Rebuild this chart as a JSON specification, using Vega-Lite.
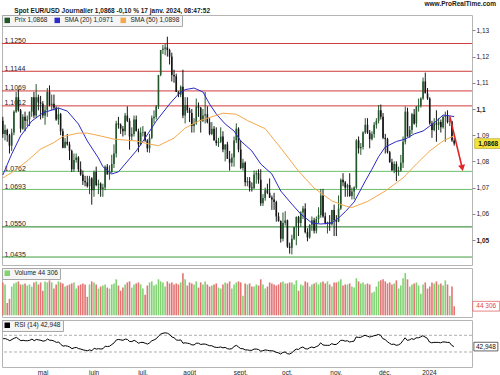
{
"$schema":"https://vega.github.io/schema/vega-lite/v6.json",
"padding":0,
"background":"white",
"datasets":{
"px":[
{"d":"2023-04-05","o":1.0955,"h":1.0970,"l":1.0890,"c":1.0905,"v":160000,"r":62},
{"d":"2023-04-06","o":1.0905,"h":1.0940,"l":1.0880,"c":1.0920,"v":150000,"r":62},
{"d":"2023-04-07","o":1.0920,"h":1.0925,"l":1.0875,"c":1.0900,"v":60000,"r":60},
{"d":"2023-04-10","o":1.0900,"h":1.0905,"l":1.0830,"c":1.0860,"v":80000,"r":57},
{"d":"2023-04-11","o":1.0860,"h":1.0925,"l":1.0840,"c":1.0910,"v":140000,"r":60},
{"d":"2023-04-12","o":1.0910,"h":1.0995,"l":1.0900,"c":1.0990,"v":155000,"r":63},
{"d":"2023-04-13","o":1.0990,"h":1.1065,"l":1.0985,"c":1.1045,"v":160000,"r":65},
{"d":"2023-04-14","o":1.1045,"h":1.1075,"l":1.0990,"c":1.0995,"v":165000,"r":61},
{"d":"2023-04-17","o":1.0995,"h":1.1000,"l":1.0910,"c":1.0925,"v":150000,"r":57},
{"d":"2023-04-18","o":1.0925,"h":1.0980,"l":1.0920,"c":1.0970,"v":150000,"r":58},
{"d":"2023-04-19","o":1.0970,"h":1.0990,"l":1.0915,"c":1.0955,"v":155000,"r":57},
{"d":"2023-04-20","o":1.0955,"h":1.0975,"l":1.0935,"c":1.0960,"v":145000,"r":57},
{"d":"2023-04-21","o":1.0960,"h":1.0990,"l":1.0935,"c":1.0990,"v":150000,"r":58},
{"d":"2023-04-24","o":1.0990,"h":1.1045,"l":1.0970,"c":1.1045,"v":140000,"r":61},
{"d":"2023-04-25","o":1.1045,"h":1.1065,"l":1.0965,"c":1.0975,"v":160000,"r":57},
{"d":"2023-04-26","o":1.0975,"h":1.1095,"l":1.0965,"c":1.1045,"v":165000,"r":60},
{"d":"2023-04-27","o":1.1045,"h":1.1055,"l":1.0995,"c":1.1025,"v":150000,"r":59},
{"d":"2023-04-28","o":1.1025,"h":1.1050,"l":1.0960,"c":1.1020,"v":160000,"r":58},
{"d":"2023-05-01","o":1.1020,"h":1.1030,"l":1.0965,"c":1.0975,"v":120000,"r":56},
{"d":"2023-05-02","o":1.0975,"h":1.1010,"l":1.0940,"c":1.0995,"v":165000,"r":57},
{"d":"2023-05-03","o":1.0995,"h":1.1080,"l":1.0970,"c":1.1065,"v":160000,"r":61},
{"d":"2023-05-04","o":1.1065,"h":1.1090,"l":1.1010,"c":1.1015,"v":170000,"r":58},
{"d":"2023-05-05","o":1.1015,"h":1.1055,"l":1.0995,"c":1.1020,"v":160000,"r":58},
{"d":"2023-05-08","o":1.1020,"h":1.1055,"l":1.0995,"c":1.1005,"v":130000,"r":56},
{"d":"2023-05-09","o":1.1005,"h":1.1010,"l":1.0955,"c":1.0960,"v":150000,"r":53},
{"d":"2023-05-10","o":1.0960,"h":1.1005,"l":1.0940,"c":1.0980,"v":165000,"r":54},
{"d":"2023-05-11","o":1.0980,"h":1.0985,"l":1.0900,"c":1.0915,"v":160000,"r":48},
{"d":"2023-05-12","o":1.0915,"h":1.0925,"l":1.0850,"c":1.0852,"v":155000,"r":44},
{"d":"2023-05-15","o":1.0852,"h":1.0890,"l":1.0850,"c":1.0875,"v":140000,"r":45},
{"d":"2023-05-16","o":1.0875,"h":1.0905,"l":1.0860,"c":1.0865,"v":145000,"r":44},
{"d":"2023-05-17","o":1.0865,"h":1.0875,"l":1.0805,"c":1.0840,"v":150000,"r":42},
{"d":"2023-05-18","o":1.0840,"h":1.0845,"l":1.0760,"c":1.0770,"v":155000,"r":38},
{"d":"2023-05-19","o":1.0770,"h":1.0830,"l":1.0760,"c":1.0805,"v":160000,"r":40},
{"d":"2023-05-22","o":1.0805,"h":1.0830,"l":1.0795,"c":1.0815,"v":130000,"r":41},
{"d":"2023-05-23","o":1.0815,"h":1.0820,"l":1.0760,"c":1.0770,"v":145000,"r":38},
{"d":"2023-05-24","o":1.0770,"h":1.0800,"l":1.0745,"c":1.0750,"v":150000,"r":37},
{"d":"2023-05-25","o":1.0750,"h":1.0765,"l":1.0710,"c":1.0725,"v":155000,"r":35},
{"d":"2023-05-26","o":1.0725,"h":1.0745,"l":1.0705,"c":1.0720,"v":150000,"r":34},
{"d":"2023-05-29","o":1.0720,"h":1.0745,"l":1.0700,"c":1.0705,"v":90000,"r":33},
{"d":"2023-05-30","o":1.0705,"h":1.0745,"l":1.0675,"c":1.0735,"v":150000,"r":35},
{"d":"2023-05-31","o":1.0735,"h":1.0740,"l":1.0635,"c":1.0690,"v":165000,"r":33},
{"d":"2023-06-01","o":1.0690,"h":1.0765,"l":1.0665,"c":1.0760,"v":160000,"r":39},
{"d":"2023-06-02","o":1.0760,"h":1.0780,"l":1.0705,"c":1.0710,"v":150000,"r":37},
{"d":"2023-06-05","o":1.0710,"h":1.0730,"l":1.0675,"c":1.0715,"v":130000,"r":38},
{"d":"2023-06-06","o":1.0715,"h":1.0720,"l":1.0665,"c":1.0695,"v":140000,"r":37},
{"d":"2023-06-07","o":1.0695,"h":1.0715,"l":1.0665,"c":1.0700,"v":145000,"r":38},
{"d":"2023-06-08","o":1.0700,"h":1.0785,"l":1.0690,"c":1.0780,"v":150000,"r":44},
{"d":"2023-06-09","o":1.0780,"h":1.0790,"l":1.0750,"c":1.0750,"v":135000,"r":43},
{"d":"2023-06-12","o":1.0750,"h":1.0785,"l":1.0730,"c":1.0760,"v":130000,"r":44},
{"d":"2023-06-13","o":1.0760,"h":1.0825,"l":1.0755,"c":1.0790,"v":150000,"r":48},
{"d":"2023-06-14","o":1.0790,"h":1.0865,"l":1.0775,"c":1.0830,"v":155000,"r":52},
{"d":"2023-06-15","o":1.0830,"h":1.0955,"l":1.0815,"c":1.0945,"v":175000,"r":59},
{"d":"2023-06-16","o":1.0945,"h":1.0970,"l":1.0925,"c":1.0940,"v":145000,"r":60},
{"d":"2023-06-19","o":1.0940,"h":1.0945,"l":1.0905,"c":1.0925,"v":120000,"r":59},
{"d":"2023-06-20","o":1.0925,"h":1.0935,"l":1.0895,"c":1.0915,"v":135000,"r":58},
{"d":"2023-06-21","o":1.0915,"h":1.0985,"l":1.0900,"c":1.0975,"v":150000,"r":61},
{"d":"2023-06-22","o":1.0975,"h":1.1010,"l":1.0950,"c":1.0955,"v":160000,"r":60},
{"d":"2023-06-23","o":1.0955,"h":1.0965,"l":1.0845,"c":1.0895,"v":165000,"r":55},
{"d":"2023-06-26","o":1.0895,"h":1.0930,"l":1.0880,"c":1.0905,"v":135000,"r":55},
{"d":"2023-06-27","o":1.0905,"h":1.0975,"l":1.0895,"c":1.0960,"v":150000,"r":58},
{"d":"2023-06-28","o":1.0960,"h":1.0975,"l":1.0915,"c":1.0915,"v":155000,"r":55},
{"d":"2023-06-29","o":1.0915,"h":1.0925,"l":1.0835,"c":1.0865,"v":160000,"r":51},
{"d":"2023-06-30","o":1.0865,"h":1.0930,"l":1.0860,"c":1.0910,"v":150000,"r":53},
{"d":"2023-07-03","o":1.0910,"h":1.0935,"l":1.0895,"c":1.0912,"v":130000,"r":53},
{"d":"2023-07-04","o":1.0912,"h":1.0915,"l":1.0875,"c":1.0880,"v":100000,"r":51},
{"d":"2023-07-05","o":1.0880,"h":1.0885,"l":1.0835,"c":1.0850,"v":145000,"r":49},
{"d":"2023-07-06","o":1.0850,"h":1.0905,"l":1.0833,"c":1.0890,"v":160000,"r":52},
{"d":"2023-07-07","o":1.0890,"h":1.0975,"l":1.0885,"c":1.0965,"v":165000,"r":57},
{"d":"2023-07-10","o":1.0965,"h":1.0995,"l":1.0945,"c":1.0970,"v":145000,"r":59},
{"d":"2023-07-11","o":1.0970,"h":1.1015,"l":1.0960,"c":1.1010,"v":150000,"r":62},
{"d":"2023-07-12","o":1.1010,"h":1.1130,"l":1.1000,"c":1.1130,"v":175000,"r":68},
{"d":"2023-07-13","o":1.1130,"h":1.1225,"l":1.1125,"c":1.1225,"v":165000,"r":73},
{"d":"2023-07-14","o":1.1225,"h":1.1245,"l":1.1210,"c":1.1230,"v":160000,"r":75},
{"d":"2023-07-17","o":1.1230,"h":1.1250,"l":1.1205,"c":1.1235,"v":140000,"r":76},
{"d":"2023-07-18","o":1.1235,"h":1.1276,"l":1.1200,"c":1.1225,"v":165000,"r":75},
{"d":"2023-07-19","o":1.1225,"h":1.1230,"l":1.1170,"c":1.1200,"v":155000,"r":72},
{"d":"2023-07-20","o":1.1200,"h":1.1215,"l":1.1105,"c":1.1130,"v":160000,"r":66},
{"d":"2023-07-21","o":1.1130,"h":1.1150,"l":1.1100,"c":1.1125,"v":150000,"r":64},
{"d":"2023-07-24","o":1.1125,"h":1.1135,"l":1.1065,"c":1.1065,"v":155000,"r":59},
{"d":"2023-07-25","o":1.1065,"h":1.1068,"l":1.1045,"c":1.1055,"v":150000,"r":58},
{"d":"2023-07-26","o":1.1055,"h":1.1090,"l":1.1045,"c":1.1085,"v":160000,"r":59},
{"d":"2023-07-27","o":1.1085,"h":1.1150,"l":1.0965,"c":1.0975,"v":205000,"r":51},
{"d":"2023-07-28","o":1.0975,"h":1.1045,"l":1.0945,"c":1.1015,"v":175000,"r":52},
{"d":"2023-07-31","o":1.1015,"h":1.1045,"l":1.0985,"c":1.0995,"v":145000,"r":51},
{"d":"2023-08-01","o":1.0995,"h":1.1005,"l":1.0950,"c":1.0985,"v":160000,"r":50},
{"d":"2023-08-02","o":1.0985,"h":1.1000,"l":1.0910,"c":1.0935,"v":155000,"r":47},
{"d":"2023-08-03","o":1.0935,"h":1.0965,"l":1.0910,"c":1.0945,"v":150000,"r":47},
{"d":"2023-08-04","o":1.0945,"h":1.1040,"l":1.0940,"c":1.1010,"v":165000,"r":51},
{"d":"2023-08-07","o":1.1010,"h":1.1025,"l":1.0970,"c":1.1005,"v":135000,"r":51},
{"d":"2023-08-08","o":1.1005,"h":1.1008,"l":1.0910,"c":1.0955,"v":160000,"r":48},
{"d":"2023-08-09","o":1.0955,"h":1.1000,"l":1.0950,"c":1.0975,"v":150000,"r":49},
{"d":"2023-08-10","o":1.0975,"h":1.1065,"l":1.0945,"c":1.0980,"v":165000,"r":49},
{"d":"2023-08-11","o":1.0980,"h":1.1010,"l":1.0945,"c":1.0950,"v":150000,"r":47},
{"d":"2023-08-14","o":1.0950,"h":1.0965,"l":1.0900,"c":1.0905,"v":140000,"r":45},
{"d":"2023-08-15","o":1.0905,"h":1.0950,"l":1.0900,"c":1.0925,"v":145000,"r":45},
{"d":"2023-08-16","o":1.0925,"h":1.0935,"l":1.0880,"c":1.0880,"v":150000,"r":42},
{"d":"2023-08-17","o":1.0880,"h":1.0930,"l":1.0860,"c":1.0870,"v":155000,"r":41},
{"d":"2023-08-18","o":1.0870,"h":1.0890,"l":1.0855,"c":1.0875,"v":135000,"r":41},
{"d":"2023-08-21","o":1.0875,"h":1.0930,"l":1.0870,"c":1.0895,"v":130000,"r":42},
{"d":"2023-08-22","o":1.0895,"h":1.0915,"l":1.0835,"c":1.0845,"v":150000,"r":40},
{"d":"2023-08-23","o":1.0845,"h":1.0865,"l":1.0800,"c":1.0865,"v":160000,"r":41},
{"d":"2023-08-24","o":1.0865,"h":1.0875,"l":1.0810,"c":1.0810,"v":155000,"r":38},
{"d":"2023-08-25","o":1.0810,"h":1.0840,"l":1.0765,"c":1.0795,"v":165000,"r":37},
{"d":"2023-08-28","o":1.0795,"h":1.0830,"l":1.0780,"c":1.0815,"v":130000,"r":38},
{"d":"2023-08-29","o":1.0815,"h":1.0895,"l":1.0780,"c":1.0880,"v":150000,"r":43},
{"d":"2023-08-30","o":1.0880,"h":1.0945,"l":1.0870,"c":1.0925,"v":160000,"r":46},
{"d":"2023-08-31","o":1.0925,"h":1.0930,"l":1.0835,"c":1.0845,"v":165000,"r":42},
{"d":"2023-09-01","o":1.0845,"h":1.0880,"l":1.0770,"c":1.0775,"v":160000,"r":38},
{"d":"2023-09-04","o":1.0775,"h":1.0810,"l":1.0765,"c":1.0795,"v":95000,"r":38},
{"d":"2023-09-05","o":1.0795,"h":1.0800,"l":1.0705,"c":1.0720,"v":155000,"r":35},
{"d":"2023-09-06","o":1.0720,"h":1.0740,"l":1.0705,"c":1.0725,"v":150000,"r":35},
{"d":"2023-09-07","o":1.0725,"h":1.0740,"l":1.0685,"c":1.0700,"v":155000,"r":34},
{"d":"2023-09-08","o":1.0700,"h":1.0720,"l":1.0685,"c":1.0698,"v":140000,"r":34},
{"d":"2023-09-11","o":1.0698,"h":1.0765,"l":1.0695,"c":1.0750,"v":140000,"r":37},
{"d":"2023-09-12","o":1.0750,"h":1.0765,"l":1.0715,"c":1.0755,"v":150000,"r":37},
{"d":"2023-09-13","o":1.0755,"h":1.0770,"l":1.0715,"c":1.0730,"v":145000,"r":36},
{"d":"2023-09-14","o":1.0730,"h":1.0770,"l":1.0630,"c":1.0640,"v":175000,"r":32},
{"d":"2023-09-15","o":1.0640,"h":1.0675,"l":1.0630,"c":1.0660,"v":150000,"r":33},
{"d":"2023-09-18","o":1.0660,"h":1.0700,"l":1.0650,"c":1.0690,"v":130000,"r":35},
{"d":"2023-09-19","o":1.0690,"h":1.0715,"l":1.0675,"c":1.0680,"v":140000,"r":34},
{"d":"2023-09-20","o":1.0680,"h":1.0735,"l":1.0660,"c":1.0662,"v":160000,"r":33},
{"d":"2023-09-21","o":1.0662,"h":1.0670,"l":1.0615,"c":1.0655,"v":155000,"r":33},
{"d":"2023-09-22","o":1.0655,"h":1.0680,"l":1.0615,"c":1.0645,"v":150000,"r":32},
{"d":"2023-09-25","o":1.0645,"h":1.0650,"l":1.0570,"c":1.0590,"v":145000,"r":29},
{"d":"2023-09-26","o":1.0590,"h":1.0605,"l":1.0570,"c":1.0572,"v":150000,"r":28},
{"d":"2023-09-27","o":1.0572,"h":1.0575,"l":1.0490,"c":1.0505,"v":160000,"r":25},
{"d":"2023-09-28","o":1.0505,"h":1.0605,"l":1.0495,"c":1.0565,"v":165000,"r":29},
{"d":"2023-09-29","o":1.0565,"h":1.0610,"l":1.0555,"c":1.0575,"v":155000,"r":30},
{"d":"2023-10-02","o":1.0575,"h":1.0578,"l":1.0470,"c":1.0475,"v":155000,"r":26},
{"d":"2023-10-03","o":1.0475,"h":1.0490,"l":1.0448,"c":1.0470,"v":160000,"r":25},
{"d":"2023-10-04","o":1.0470,"h":1.0520,"l":1.0445,"c":1.0505,"v":160000,"r":28},
{"d":"2023-10-05","o":1.0505,"h":1.0550,"l":1.0500,"c":1.0550,"v":150000,"r":33},
{"d":"2023-10-06","o":1.0550,"h":1.0590,"l":1.0480,"c":1.0588,"v":170000,"r":37},
{"d":"2023-10-09","o":1.0588,"h":1.0592,"l":1.0515,"c":1.0565,"v":120000,"r":36},
{"d":"2023-10-10","o":1.0565,"h":1.0610,"l":1.0550,"c":1.0605,"v":150000,"r":40},
{"d":"2023-10-11","o":1.0605,"h":1.0630,"l":1.0580,"c":1.0620,"v":145000,"r":42},
{"d":"2023-10-12","o":1.0620,"h":1.0640,"l":1.0525,"c":1.0530,"v":165000,"r":38},
{"d":"2023-10-13","o":1.0530,"h":1.0545,"l":1.0495,"c":1.0510,"v":160000,"r":37},
{"d":"2023-10-16","o":1.0510,"h":1.0560,"l":1.0505,"c":1.0558,"v":140000,"r":40},
{"d":"2023-10-17","o":1.0558,"h":1.0590,"l":1.0535,"c":1.0575,"v":150000,"r":42},
{"d":"2023-10-18","o":1.0575,"h":1.0585,"l":1.0525,"c":1.0535,"v":155000,"r":40},
{"d":"2023-10-19","o":1.0535,"h":1.0590,"l":1.0525,"c":1.0580,"v":160000,"r":43},
{"d":"2023-10-20","o":1.0580,"h":1.0625,"l":1.0565,"c":1.0595,"v":150000,"r":45},
{"d":"2023-10-23","o":1.0595,"h":1.0695,"l":1.0585,"c":1.0670,"v":160000,"r":52},
{"d":"2023-10-24","o":1.0670,"h":1.0695,"l":1.0585,"c":1.0590,"v":165000,"r":47},
{"d":"2023-10-25","o":1.0590,"h":1.0605,"l":1.0560,"c":1.0565,"v":155000,"r":46},
{"d":"2023-10-26","o":1.0565,"h":1.0570,"l":1.0525,"c":1.0568,"v":165000,"r":46},
{"d":"2023-10-27","o":1.0568,"h":1.0595,"l":1.0535,"c":1.0560,"v":150000,"r":46},
{"d":"2023-10-30","o":1.0560,"h":1.0615,"l":1.0555,"c":1.0615,"v":140000,"r":50},
{"d":"2023-10-31","o":1.0615,"h":1.0635,"l":1.0515,"c":1.0575,"v":160000,"r":48},
{"d":"2023-11-01","o":1.0575,"h":1.0595,"l":1.0515,"c":1.0570,"v":160000,"r":48},
{"d":"2023-11-02","o":1.0570,"h":1.0670,"l":1.0568,"c":1.0620,"v":165000,"r":52},
{"d":"2023-11-03","o":1.0620,"h":1.0735,"l":1.0615,"c":1.0730,"v":175000,"r":58},
{"d":"2023-11-06","o":1.0730,"h":1.0755,"l":1.0705,"c":1.0720,"v":145000,"r":58},
{"d":"2023-11-07","o":1.0720,"h":1.0725,"l":1.0665,"c":1.0700,"v":150000,"r":56},
{"d":"2023-11-08","o":1.0700,"h":1.0715,"l":1.0665,"c":1.0710,"v":150000,"r":57},
{"d":"2023-11-09","o":1.0710,"h":1.0755,"l":1.0665,"c":1.0668,"v":155000,"r":54},
{"d":"2023-11-10","o":1.0668,"h":1.0700,"l":1.0655,"c":1.0685,"v":140000,"r":55},
{"d":"2023-11-13","o":1.0685,"h":1.0705,"l":1.0655,"c":1.0700,"v":135000,"r":56},
{"d":"2023-11-14","o":1.0700,"h":1.0885,"l":1.0695,"c":1.0880,"v":180000,"r":66},
{"d":"2023-11-15","o":1.0880,"h":1.0895,"l":1.0830,"c":1.0850,"v":165000,"r":65},
{"d":"2023-11-16","o":1.0850,"h":1.0870,"l":1.0825,"c":1.0855,"v":155000,"r":65},
{"d":"2023-11-17","o":1.0855,"h":1.0915,"l":1.0845,"c":1.0910,"v":160000,"r":68},
{"d":"2023-11-20","o":1.0910,"h":1.0965,"l":1.0905,"c":1.0940,"v":150000,"r":70},
{"d":"2023-11-21","o":1.0940,"h":1.0965,"l":1.0905,"c":1.0910,"v":155000,"r":68},
{"d":"2023-11-22","o":1.0910,"h":1.0920,"l":1.0850,"c":1.0885,"v":150000,"r":66},
{"d":"2023-11-23","o":1.0885,"h":1.0915,"l":1.0880,"c":1.0905,"v":110000,"r":67},
{"d":"2023-11-24","o":1.0905,"h":1.0950,"l":1.0890,"c":1.0940,"v":115000,"r":69},
{"d":"2023-11-27","o":1.0940,"h":1.0965,"l":1.0925,"c":1.0955,"v":140000,"r":70},
{"d":"2023-11-28","o":1.0955,"h":1.1015,"l":1.0945,"c":1.0995,"v":165000,"r":72},
{"d":"2023-11-29","o":1.0995,"h":1.1017,"l":1.0960,"c":1.0970,"v":170000,"r":70},
{"d":"2023-11-30","o":1.0970,"h":1.0985,"l":1.0885,"c":1.0890,"v":175000,"r":62},
{"d":"2023-12-01","o":1.0890,"h":1.0905,"l":1.0830,"c":1.0885,"v":165000,"r":60},
{"d":"2023-12-04","o":1.0885,"h":1.0890,"l":1.0830,"c":1.0835,"v":155000,"r":55},
{"d":"2023-12-05","o":1.0835,"h":1.0840,"l":1.0795,"c":1.0797,"v":160000,"r":51},
{"d":"2023-12-06","o":1.0797,"h":1.0810,"l":1.0765,"c":1.0765,"v":150000,"r":48},
{"d":"2023-12-07","o":1.0765,"h":1.0800,"l":1.0755,"c":1.0790,"v":155000,"r":49},
{"d":"2023-12-08","o":1.0790,"h":1.0800,"l":1.0725,"c":1.0760,"v":170000,"r":46},
{"d":"2023-12-11","o":1.0760,"h":1.0780,"l":1.0745,"c":1.0765,"v":130000,"r":47},
{"d":"2023-12-12","o":1.0765,"h":1.0825,"l":1.0760,"c":1.0795,"v":145000,"r":50},
{"d":"2023-12-13","o":1.0795,"h":1.0895,"l":1.0775,"c":1.0875,"v":180000,"r":57},
{"d":"2023-12-14","o":1.0875,"h":1.1010,"l":1.0865,"c":1.0990,"v":205000,"r":64},
{"d":"2023-12-15","o":1.0990,"h":1.1005,"l":1.0895,"c":1.0895,"v":175000,"r":58},
{"d":"2023-12-18","o":1.0895,"h":1.0935,"l":1.0890,"c":1.0920,"v":140000,"r":59},
{"d":"2023-12-19","o":1.0920,"h":1.0985,"l":1.0905,"c":1.0980,"v":150000,"r":62},
{"d":"2023-12-20","o":1.0980,"h":1.1000,"l":1.0940,"c":1.0945,"v":155000,"r":60},
{"d":"2023-12-21","o":1.0945,"h":1.1010,"l":1.0930,"c":1.1010,"v":160000,"r":64},
{"d":"2023-12-22","o":1.1010,"h":1.1040,"l":1.0990,"c":1.1012,"v":145000,"r":64},
{"d":"2023-12-26","o":1.1012,"h":1.1045,"l":1.1005,"c":1.1040,"v":105000,"r":66},
{"d":"2023-12-27","o":1.1040,"h":1.1120,"l":1.1035,"c":1.1105,"v":150000,"r":69},
{"d":"2023-12-28","o":1.1105,"h":1.1139,"l":1.1060,"c":1.1060,"v":160000,"r":66},
{"d":"2023-12-29","o":1.1060,"h":1.1080,"l":1.1035,"c":1.1040,"v":130000,"r":63},
{"d":"2024-01-02","o":1.1040,"h":1.1045,"l":1.0940,"c":1.0945,"v":140000,"r":54},
{"d":"2024-01-03","o":1.0945,"h":1.0955,"l":1.0890,"c":1.0920,"v":160000,"r":52},
{"d":"2024-01-04","o":1.0920,"h":1.0965,"l":1.0915,"c":1.0945,"v":155000,"r":53},
{"d":"2024-01-05","o":1.0945,"h":1.0995,"l":1.0875,"c":1.0940,"v":165000,"r":53},
{"d":"2024-01-08","o":1.0940,"h":1.0965,"l":1.0920,"c":1.0950,"v":150000,"r":53},
{"d":"2024-01-09","o":1.0950,"h":1.0960,"l":1.0910,"c":1.0930,"v":155000,"r":52},
{"d":"2024-01-10","o":1.0930,"h":1.0975,"l":1.0925,"c":1.0970,"v":145000,"r":54},
{"d":"2024-01-11","o":1.0970,"h":1.0990,"l":1.0875,"c":1.0975,"v":170000,"r":54},
{"d":"2024-01-12","o":1.0975,"h":1.0995,"l":1.0945,"c":1.0950,"v":150000,"r":53},
{"d":"2024-01-15","o":1.0950,"h":1.0965,"l":1.0935,"c":1.0952,"v":95000,"r":53},
{"d":"2024-01-16","o":1.0952,"h":1.0955,"l":1.0875,"c":1.0880,"v":140000,"r":46},
{"d":"2024-01-17","o":1.0880,"h":1.0890,"l":1.0860,"c":1.0868,"v":44306,"r":42.948}
],
"sma":[
{"d":"2023-04-05","k":"SMA (20) 1,0971","s":1.0748},
{"d":"2023-04-11","k":"SMA (20) 1,0971","s":1.0828},
{"d":"2023-04-17","k":"SMA (20) 1,0971","s":1.0897},
{"d":"2023-04-24","k":"SMA (20) 1,0971","s":1.0954},
{"d":"2023-05-01","k":"SMA (20) 1,0971","s":1.0985},
{"d":"2023-05-10","k":"SMA (20) 1,0971","s":1.1004},
{"d":"2023-05-16","k":"SMA (20) 1,0971","s":1.0992},
{"d":"2023-05-23","k":"SMA (20) 1,0971","s":1.0943},
{"d":"2023-05-29","k":"SMA (20) 1,0971","s":1.0878},
{"d":"2023-06-05","k":"SMA (20) 1,0971","s":1.0813},
{"d":"2023-06-07","k":"SMA (20) 1,0971","s":1.0780},
{"d":"2023-06-13","k":"SMA (20) 1,0971","s":1.0752},
{"d":"2023-06-16","k":"SMA (20) 1,0971","s":1.0760},
{"d":"2023-06-21","k":"SMA (20) 1,0971","s":1.0790},
{"d":"2023-06-28","k":"SMA (20) 1,0971","s":1.0840},
{"d":"2023-07-04","k":"SMA (20) 1,0971","s":1.0889},
{"d":"2023-07-11","k":"SMA (20) 1,0971","s":1.0954},
{"d":"2023-07-19","k":"SMA (20) 1,0971","s":1.1019},
{"d":"2023-07-25","k":"SMA (20) 1,0971","s":1.1057},
{"d":"2023-07-28","k":"SMA (20) 1,0971","s":1.1074},
{"d":"2023-08-03","k":"SMA (20) 1,0971","s":1.1080},
{"d":"2023-08-09","k":"SMA (20) 1,0971","s":1.1065},
{"d":"2023-08-14","k":"SMA (20) 1,0971","s":1.1019},
{"d":"2023-08-17","k":"SMA (20) 1,0971","s":1.0981},
{"d":"2023-08-23","k":"SMA (20) 1,0971","s":1.0943},
{"d":"2023-08-29","k":"SMA (20) 1,0971","s":1.0916},
{"d":"2023-09-01","k":"SMA (20) 1,0971","s":1.0878},
{"d":"2023-09-08","k":"SMA (20) 1,0971","s":1.0840},
{"d":"2023-09-14","k":"SMA (20) 1,0971","s":1.0790},
{"d":"2023-09-21","k":"SMA (20) 1,0971","s":1.0752},
{"d":"2023-09-27","k":"SMA (20) 1,0971","s":1.0687},
{"d":"2023-10-04","k":"SMA (20) 1,0971","s":1.0637},
{"d":"2023-10-10","k":"SMA (20) 1,0971","s":1.0599},
{"d":"2023-10-17","k":"SMA (20) 1,0971","s":1.0565},
{"d":"2023-10-23","k":"SMA (20) 1,0971","s":1.0561},
{"d":"2023-10-30","k":"SMA (20) 1,0971","s":1.0565},
{"d":"2023-11-02","k":"SMA (20) 1,0971","s":1.0584},
{"d":"2023-11-07","k":"SMA (20) 1,0971","s":1.0608},
{"d":"2023-11-13","k":"SMA (20) 1,0971","s":1.0645},
{"d":"2023-11-20","k":"SMA (20) 1,0971","s":1.0725},
{"d":"2023-11-23","k":"SMA (20) 1,0971","s":1.0770},
{"d":"2023-11-28","k":"SMA (20) 1,0971","s":1.0818},
{"d":"2023-12-01","k":"SMA (20) 1,0971","s":1.0855},
{"d":"2023-12-08","k":"SMA (20) 1,0971","s":1.0876},
{"d":"2023-12-14","k":"SMA (20) 1,0971","s":1.0885},
{"d":"2023-12-20","k":"SMA (20) 1,0971","s":1.0905},
{"d":"2023-12-27","k":"SMA (20) 1,0971","s":1.0916},
{"d":"2024-01-02","k":"SMA (20) 1,0971","s":1.0935},
{"d":"2024-01-05","k":"SMA (20) 1,0971","s":1.0954},
{"d":"2024-01-10","k":"SMA (20) 1,0971","s":1.0977},
{"d":"2024-01-15","k":"SMA (20) 1,0971","s":1.0974},
{"d":"2024-01-17","k":"SMA (20) 1,0971","s":1.0971},
{"d":"2023-04-05","k":"SMA (50) 1,0898","s":1.0737},
{"d":"2023-04-12","k":"SMA (50) 1,0898","s":1.0763},
{"d":"2023-04-20","k":"SMA (50) 1,0898","s":1.0802},
{"d":"2023-04-28","k":"SMA (50) 1,0898","s":1.0847},
{"d":"2023-05-08","k":"SMA (50) 1,0898","s":1.0872},
{"d":"2023-05-12","k":"SMA (50) 1,0898","s":1.0895},
{"d":"2023-05-23","k":"SMA (50) 1,0898","s":1.0908},
{"d":"2023-05-29","k":"SMA (50) 1,0898","s":1.0908},
{"d":"2023-06-06","k":"SMA (50) 1,0898","s":1.0897},
{"d":"2023-06-14","k":"SMA (50) 1,0898","s":1.0885},
{"d":"2023-06-28","k":"SMA (50) 1,0898","s":1.0878},
{"d":"2023-07-06","k":"SMA (50) 1,0898","s":1.0866},
{"d":"2023-07-12","k":"SMA (50) 1,0898","s":1.0860},
{"d":"2023-07-21","k":"SMA (50) 1,0898","s":1.0889},
{"d":"2023-07-28","k":"SMA (50) 1,0898","s":1.0927},
{"d":"2023-08-07","k":"SMA (50) 1,0898","s":1.0954},
{"d":"2023-08-16","k":"SMA (50) 1,0898","s":1.0973},
{"d":"2023-08-22","k":"SMA (50) 1,0898","s":1.0984},
{"d":"2023-08-30","k":"SMA (50) 1,0898","s":1.0980},
{"d":"2023-09-06","k":"SMA (50) 1,0898","s":1.0956},
{"d":"2023-09-18","k":"SMA (50) 1,0898","s":1.0925},
{"d":"2023-09-27","k":"SMA (50) 1,0898","s":1.0851},
{"d":"2023-10-09","k":"SMA (50) 1,0898","s":1.0763},
{"d":"2023-10-18","k":"SMA (50) 1,0898","s":1.0698},
{"d":"2023-10-30","k":"SMA (50) 1,0898","s":1.0649},
{"d":"2023-11-07","k":"SMA (50) 1,0898","s":1.0630},
{"d":"2023-11-10","k":"SMA (50) 1,0898","s":1.0624},
{"d":"2023-11-21","k":"SMA (50) 1,0898","s":1.0647},
{"d":"2023-12-01","k":"SMA (50) 1,0898","s":1.0687},
{"d":"2023-12-13","k":"SMA (50) 1,0898","s":1.0737},
{"d":"2023-12-21","k":"SMA (50) 1,0898","s":1.0790},
{"d":"2024-01-02","k":"SMA (50) 1,0898","s":1.0840},
{"d":"2024-01-10","k":"SMA (50) 1,0898","s":1.0878},
{"d":"2024-01-17","k":"SMA (50) 1,0898","s":1.0898}
],
"lv":[{"lv":1.125,"k":"r"},{"lv":1.1144,"k":"r"},{"lv":1.1069,"k":"r"},{"lv":1.1012,"k":"r"},{"lv":1.0762,"k":"s"},{"lv":1.0693,"k":"s"},{"lv":1.055,"k":"m"},{"lv":1.0435,"k":"b"}],
"arrow":[{"d1":"2024-01-15","d2":"2024-01-17","p1":1.0973,"p2":1.0775}],
"rsilv":[{"lvl":70},{"lvl":30}],
"months":[{"m":"2023-05-01","t":"mai"},{"m":"2023-06-01","t":"juin"},{"m":"2023-07-03","t":"juil."},{"m":"2023-08-01","t":"août"},{"m":"2023-09-01","t":"sept."},{"m":"2023-10-02","t":"oct."},{"m":"2023-11-01","t":"nov."},{"m":"2023-12-01","t":"déc."},{"m":"2024-01-02","t":"2024"}]
},
"title":{"text":"Spot EUR/USD Journalier 1,0868 -0,10 % 17 janv. 2024, 08:47:52","anchor":"start","fontSize":6.5,"fontWeight":"bold","color":"#1a1a1a","offset":-14,"frame":"bounds","dx":14},
"spacing":1,
"resolve":{"scale":{"color":"independent"},"legend":{"color":"independent"}},
"vconcat":[
{
"width":470,"height":250,
"title":{"text":"www.ProRealTime.com","anchor":"end","fontSize":6.5,"fontWeight":"bold","color":"#1a1a1a","offset":7,"frame":"group","dx":24},
"resolve":{"axis":{"y":"independent"}},
"layer":[
{"data":{"name":"lv"},"mark":{"type":"rule"},
 "encoding":{
  "y":{"field":"lv","type":"quantitative","scale":{"domain":[1.04046,1.13588],"zero":false,"nice":false},
   "axis":{"orient":"left","values":[1.125,1.1144,1.1069,1.1012,1.0762,1.0693,1.055,1.0435],"format":".4f","labelAlign":"left","labelBaseline":"bottom","labelPadding":-2,"ticks":false,"domain":false,"grid":false,"title":null,"minExtent":0,"maxExtent":0,"labelOverlap":false,"labelFlush":false,"labelBound":false,"labelFontSize":7}},
  "stroke":{"field":"k","type":"nominal","scale":{"domain":["r","s","m","b"],"range":["#d23c3c","#6cbf6c","#1e7d1e","#3f9d3f"]},"legend":null},
  "strokeWidth":{"field":"k","type":"nominal","scale":{"domain":["r","s","m","b"],"range":[1,1,2,1]},"legend":null}
 }},
{"data":{"name":"px"},"mark":{"type":"rule","strokeWidth":1},
 "encoding":{
  "x":{"field":"d","type":"ordinal","scale":{"paddingInner":0.28,"paddingOuter":0,"rangeMax":453},
   "axis":{"labels":false,"ticks":false,"domain":false,"grid":false,"title":"ProRealTime.com","titleAnchor":"start","titleAlign":"left","titlePadding":-10,"titleFontSize":6.5,"titleFontWeight":"normal","titleColor":"#222","minExtent":0,"maxExtent":0}},
  "y":{"field":"l","type":"quantitative","scale":{"domain":[1.04046,1.13588],"zero":false,"nice":false},
   "axis":{"orient":"right","values":[1.05,1.06,1.07,1.08,1.09,1.1,1.11,1.12,1.13],"format":"~g","tickSize":3,"tickColor":"#888","domain":false,"grid":false,"title":null,"labelPadding":1,"labelFontWeight":{"condition":{"test":"datum.value==1.1||datum.value==1.05","value":"bold"},"value":"normal"}}},
  "y2":{"field":"h"},
  "color":{"condition":{"test":"datum.c < datum.o","value":"#151515"},"value":"#24562c"}
 }},
{"data":{"name":"px"},"mark":{"type":"bar"},
 "encoding":{
  "x":{"field":"d","type":"ordinal","scale":{"paddingInner":0.28,"paddingOuter":0,"rangeMax":453},"axis":null},
  "y":{"field":"o","type":"quantitative","scale":{"domain":[1.04046,1.13588],"zero":false,"nice":false},"axis":null},
  "y2":{"field":"c"},
  "color":{"condition":{"test":"datum.c < datum.o","value":"#151515"},"datum":"Prix 1,0868",
   "scale":{"domain":["Prix 1,0868","SMA (20) 1,0971","SMA (50) 1,0898"],"range":["#24562c","#2b2bc8","#f4a84a"]},
   "legend":{"title":null}}
 }},
{"data":{"name":"sma"},"mark":{"type":"line","strokeWidth":1},
 "encoding":{
  "x":{"field":"d","type":"ordinal","scale":{"paddingInner":0.28,"paddingOuter":0,"rangeMax":453},"axis":null},
  "y":{"field":"s","type":"quantitative","scale":{"domain":[1.04046,1.13588],"zero":false,"nice":false},"axis":null},
  "color":{"field":"k","type":"nominal","legend":{"title":null}}
 }},
{"data":{"name":"arrow"},"mark":{"type":"rule","strokeWidth":1.6,"color":"#e0242a","x2Offset":8},
 "encoding":{
  "x":{"field":"d1","type":"ordinal","scale":{"paddingInner":0.28,"paddingOuter":0,"rangeMax":453},"axis":null},
  "x2":{"field":"d2"},
  "y":{"field":"p1","type":"quantitative","scale":{"domain":[1.04046,1.13588],"zero":false,"nice":false},"axis":null},
  "y2":{"field":"p2"}
 }},
{"data":{"name":"arrow"},
 "mark":{"type":"point","shape":"triangle-down","filled":true,"size":50,"angle":348,"color":"#e0242a","opacity":1,"xOffset":8},
 "encoding":{
  "x":{"field":"d2","type":"ordinal","scale":{"paddingInner":0.28,"paddingOuter":0,"rangeMax":453},"axis":null},
  "y":{"field":"p2","type":"quantitative","scale":{"domain":[1.04046,1.13588],"zero":false,"nice":false},"axis":null}
 }},
{"data":{"name":"px"},"transform":[{"filter":"datum.d == '2024-01-17'"}],
 "mark":{"type":"point","shape":"M-1,-0.36H1V0.36H-1Z","filled":true,"size":729,"fill":"#f3e43a","stroke":"#a89a20","strokeWidth":0.6,"opacity":1,"xOffset":34},
 "encoding":{
  "x":{"field":"d","type":"ordinal","scale":{"paddingInner":0.28,"paddingOuter":0,"rangeMax":453},"axis":null},
  "y":{"field":"c","type":"quantitative","scale":{"domain":[1.04046,1.13588],"zero":false,"nice":false},"axis":null}
 }},
{"data":{"name":"px"},"transform":[{"filter":"datum.d == '2024-01-17'"}],
 "mark":{"type":"text","fontSize":6.5,"fontWeight":"bold","color":"#111","dx":34,"align":"center","baseline":"middle"},
 "encoding":{
  "x":{"field":"d","type":"ordinal","scale":{"paddingInner":0.28,"paddingOuter":0,"rangeMax":453},"axis":null},
  "y":{"field":"c","type":"quantitative","scale":{"domain":[1.04046,1.13588],"zero":false,"nice":false},"axis":null},
  "text":{"field":"c","format":".4f"}
 }}
]
},
{
"width":470,"height":49,
"layer":[
{"data":{"name":"px"},"mark":{"type":"bar"},
 "encoding":{
  "x":{"field":"d","type":"ordinal","scale":{"paddingInner":0.28,"paddingOuter":0,"rangeMax":453},"axis":null},
  "y":{"field":"v","type":"quantitative","scale":{"domain":[-8000,230000],"nice":false},
   "axis":{"orient":"right","values":[0,100000,150000,200000],"format":",","tickSize":3,"tickColor":"#888","domain":false,"grid":false,"title":null,"labelPadding":1}},
  "color":{"condition":{"test":"datum.c < datum.o","value":"#e37474"},"datum":"Volume 44 306","scale":{"range":["#80d272"]},"legend":{"title":null}}
 }},
{"data":{"name":"px"},"transform":[{"filter":"datum.d == '2024-01-17'"}],
 "mark":{"type":"point","shape":"M-1,-0.36H1V0.36H-1Z","filled":true,"size":729,"fill":"#ffffff","stroke":"#e05050","strokeWidth":0.7,"opacity":1,"xOffset":32},
 "encoding":{
  "x":{"field":"d","type":"ordinal","scale":{"paddingInner":0.28,"paddingOuter":0,"rangeMax":453},"axis":null},
  "y":{"field":"v","type":"quantitative","scale":{"domain":[-8000,230000],"nice":false},"axis":null}
 }},
{"data":{"name":"px"},"transform":[{"filter":"datum.d == '2024-01-17'"}],
 "mark":{"type":"text","fontSize":6.5,"color":"#e04848","dx":32,"align":"center","baseline":"middle"},
 "encoding":{
  "x":{"field":"d","type":"ordinal","scale":{"paddingInner":0.28,"paddingOuter":0,"rangeMax":453},"axis":null},
  "y":{"field":"v","type":"quantitative","scale":{"domain":[-8000,230000],"nice":false},"axis":null},
  "text":{"field":"v","format":","}
 }}
]
},
{
"width":470,"height":47,
"layer":[
{"data":{"name":"rsilv"},"mark":{"type":"rule","strokeDash":[3,2],"strokeWidth":0.8,"color":"#9a9a9a"},
 "encoding":{
  "y":{"field":"lvl","type":"quantitative","scale":{"domain":[-6,106.7],"nice":false,"zero":false},"axis":null}
 }},
{"data":{"name":"px"},"mark":{"type":"line","strokeWidth":1},
 "encoding":{
  "x":{"field":"d","type":"ordinal","scale":{"paddingInner":0.28,"paddingOuter":0,"rangeMax":453},"axis":null},
  "y":{"field":"r","type":"quantitative","scale":{"domain":[-6,106.7],"nice":false,"zero":false},
   "axis":{"orient":"right","values":[0,100],"tickSize":3,"tickColor":"#888","domain":false,"grid":false,"title":null,"labelPadding":1,"labelFontWeight":"bold",
    "labelBaseline":{"condition":{"test":"datum.value==100","value":"top"},"value":"middle"}}},
  "color":{"datum":"RSI (14) 42,948","scale":{"range":["#000000"]},"legend":{"title":null,"symbolType":"square","symbolFillColor":"#000000"}}
 }},
{"data":{"name":"months"},"mark":{"type":"text","fontSize":6.5,"color":"#222","baseline":"top","dy":3},
 "encoding":{
  "x":{"field":"m","type":"ordinal","scale":{"paddingInner":0.28,"paddingOuter":0,"rangeMax":453},"axis":null},
  "y":{"datum":-6,"type":"quantitative","scale":{"domain":[-6,106.7],"nice":false,"zero":false},"axis":null},
  "text":{"field":"t"},
  "fontWeight":{"condition":{"test":"datum.t == '2024'","value":"bold"},"value":"normal"}
 }},
{"data":{"name":"px"},"transform":[{"filter":"datum.d == '2024-01-17'"}],
 "mark":{"type":"point","shape":"M-1,-0.36H1V0.36H-1Z","filled":true,"size":576,"fill":"#ffffff","stroke":"#222222","strokeWidth":0.7,"opacity":1,"xOffset":32},
 "encoding":{
  "x":{"field":"d","type":"ordinal","scale":{"paddingInner":0.28,"paddingOuter":0,"rangeMax":453},"axis":null},
  "y":{"field":"r","type":"quantitative","scale":{"domain":[-6,106.7],"nice":false,"zero":false},"axis":null}
 }},
{"data":{"name":"px"},"transform":[{"filter":"datum.d == '2024-01-17'"}],
 "mark":{"type":"text","fontSize":6.5,"color":"#111","dx":32,"align":"center","baseline":"middle"},
 "encoding":{
  "x":{"field":"d","type":"ordinal","scale":{"paddingInner":0.28,"paddingOuter":0,"rangeMax":453},"axis":null},
  "y":{"field":"r","type":"quantitative","scale":{"domain":[-6,106.7],"nice":false,"zero":false},"axis":null},
  "text":{"field":"r","format":".3f"}
 }}
]
}
],
"config":{
 "font":"Liberation Sans",
 "locale":{"number":{"decimal":",","thousands":" ","grouping":[3],"currency":["","\u00a0€"]}},
 "view":{"stroke":"#b5b5b5"},
 "axis":{"labelFont":"Liberation Sans","labelFontSize":6.5,"labelColor":"#222"},
 "legend":{"orient":"top-left","offset":0,"padding":2,"fillColor":"#f5f5f5","strokeColor":"#a8a8a8","labelFont":"Liberation Sans","labelFontSize":6.5,"labelColor":"#222","symbolType":"square","symbolSize":30,"symbolStrokeWidth":0,"direction":"horizontal","columnPadding":6,"rowPadding":0}
}
}
